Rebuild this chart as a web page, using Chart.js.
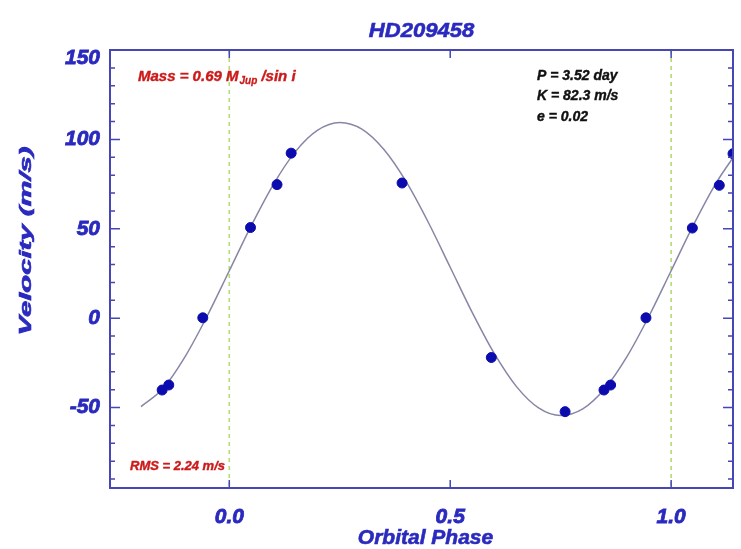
<!DOCTYPE html>
<html>
<head>
<meta charset="utf-8">
<title>HD209458</title>
<script src="https://cdn.jsdelivr.net/npm/chart.js@4/dist/chart.umd.min.js"></script>
<style>
    body { margin: 0; background: #ffffff; }
    #rvChart { display: block; }
</style>
</head>
<body>
<canvas id="rvChart" width="741" height="549"></canvas>
<script>
// radial velocity measurements, folded on the orbital period
const obsPhase = [-0.152, -0.137, -0.060, 0.048, 0.108, 0.140, 0.391, 0.593, 0.760, 0.848, 0.863, 0.943, 1.048, 1.109, 1.140];
const obsVelocity = [-40.2, -37.4, 0.2, 50.7, 74.7, 92.3, 75.6, -22.0, -52.3, -40.2, -37.4, 0.2, 50.4, 74.3, 92.0];

// orbit fit, sampled along phase
const fitPhase = [-0.20, -0.15, -0.10, -0.05, 0.00, 0.05, 0.10, 0.15, 0.20, 0.25, 0.30, 0.35, 0.40, 0.45,
    0.50, 0.55, 0.60, 0.65, 0.70, 0.75, 0.80, 0.85, 0.90, 0.95, 1.00, 1.05, 1.10, 1.15];
const fitVelocity = [-49.5, -39.4, -21.5, 1.2, 26.5, 51.9, 74.9, 93.3, 105.2, 109.5, 105.8, 94.4, 76.5, 53.8,
    28.5, 3.1, -19.9, -38.3, -50.2, -54.5, -50.8, -39.4, -21.5, 1.2, 26.5, 51.9, 74.9, 93.3];

// phase zero markers
const markerPhase = [0.0, 1.0];

const xTickValues = [0.0, 0.5, 1.0];
const yTickValues = [-50, 0, 50, 100, 150];

const titleText = 'HD209458';
const xTitle = 'Orbital Phase';
const yTitle = 'Velocity (m/s)';
const orbitLines = ['P = 3.52 day', 'K = 82.3 m/s', 'e = 0.02'];
const massText = ['Mass = 0.69 M', 'Jup', ' /sin i'];
const rmsText = 'RMS = 2.24 m/s';

const blue = '#2a2abf';
const axisBlue = '#4646b4';
const red = '#cc1a1a';
const fontFamily = '"Liberation Sans", Arial, sans-serif';

function pairs(xs, ys) {
    return xs.map((x, i) => ({ x: x, y: ys[i] }));
}

// text drawn with an optional stretch along the baseline and a thin outline for weight
function drawText(ctx, text, x, y, opts) {
    ctx.save();
    ctx.font = opts.font;
    ctx.fillStyle = opts.color;
    ctx.strokeStyle = opts.color;
    ctx.lineWidth = opts.weight || 0;
    ctx.textAlign = opts.align || 'left';
    ctx.textBaseline = 'middle';
    ctx.translate(x, y);
    if (opts.rotate) ctx.rotate(opts.rotate);
    ctx.scale(opts.stretch || 1, 1);
    ctx.fillText(text, 0, 0);
    if (opts.weight) ctx.strokeText(text, 0, 0);
    ctx.restore();
}

const markerLines = {
    id: 'markerLines',
    beforeDatasetsDraw(chart) {
        const ctx = chart.ctx;
        const area = chart.chartArea;
        const xs = chart.scales.x;
        ctx.save();
        ctx.strokeStyle = '#b2dc74';
        ctx.lineWidth = 1.6;
        ctx.setLineDash([4, 4]);
        markerPhase.forEach(p => {
            const px = xs.getPixelForValue(p);
            ctx.beginPath();
            ctx.moveTo(px, area.top);
            ctx.lineTo(px, area.bottom);
            ctx.stroke();
        });
        ctx.restore();
    }
};

const frame = {
    id: 'frame',
    afterDraw(chart) {
        const ctx = chart.ctx;
        const a = chart.chartArea;
        const xs = chart.scales.x;
        const ys = chart.scales.y;

        ctx.save();
        ctx.strokeStyle = axisBlue;
        ctx.lineWidth = 2;
        ctx.strokeRect(a.left, a.top, a.right - a.left, a.bottom - a.top);

        // inward ticks, minor every 10 m/s on the velocity axis
        ctx.lineWidth = 1.5;
        ctx.beginPath();
        for (let v = Math.ceil(ys.min / 10) * 10; v <= ys.max; v += 10) {
            const py = ys.getPixelForValue(v);
            const len = v % 50 === 0 ? 10 : 5;
            ctx.moveTo(a.left, py);
            ctx.lineTo(a.left + len, py);
            ctx.moveTo(a.right, py);
            ctx.lineTo(a.right - len, py);
        }
        xTickValues.forEach(v => {
            const px = xs.getPixelForValue(v);
            ctx.moveTo(px, a.bottom);
            ctx.lineTo(px, a.bottom - 8);
            ctx.moveTo(px, a.top);
            ctx.lineTo(px, a.top + 8);
        });
        ctx.stroke();
        ctx.restore();

        const tickFont = 'italic bold 21px ' + fontFamily;
        yTickValues.forEach(v => {
            const py = Math.max(ys.getPixelForValue(v), a.top + 8);
            drawText(ctx, String(v), a.left - 10, py, { font: tickFont, color: blue, align: 'right', weight: 0.8 });
        });
        xTickValues.forEach(v => {
            drawText(ctx, v.toFixed(1), xs.getPixelForValue(v), a.bottom + 29, { font: tickFont, color: blue, align: 'center', weight: 0.8 });
        });

        drawText(ctx, titleText, (a.left + a.right) / 2, 31, { font: 'italic bold 21px ' + fontFamily, color: blue, align: 'center', stretch: 1.05, weight: 0.6 });
        drawText(ctx, xTitle, (a.left + a.right) / 2 + 4, 538, { font: 'italic bold 20px ' + fontFamily, color: blue, align: 'center', stretch: 1.05, weight: 0.6 });
        drawText(ctx, yTitle, 26, 241, { font: 'italic bold 17px ' + fontFamily, color: blue, align: 'center', rotate: -Math.PI / 2, stretch: 1.72, weight: 0.6 });

        // fit parameters
        const smallFont = 'italic bold 14px ' + fontFamily;
        orbitLines.forEach((t, i) => {
            drawText(ctx, t, 537, 76 + i * 20.5, { font: smallFont, color: '#111111', weight: 0.4 });
        });

        // mass with a subscripted unit
        const massFont = 'italic bold 15px ' + fontFamily;
        const subFont = 'italic bold 10px ' + fontFamily;
        let mx = 138;
        const my = 77;
        drawText(ctx, massText[0], mx, my, { font: massFont, color: red, weight: 0.4 });
        ctx.save();
        ctx.font = massFont;
        mx += ctx.measureText(massText[0]).width + 1;
        drawText(ctx, massText[1], mx, my + 4, { font: subFont, color: red, weight: 0.3 });
        ctx.font = subFont;
        mx += ctx.measureText(massText[1]).width;
        ctx.restore();
        drawText(ctx, massText[2], mx, my, { font: massFont, color: red, weight: 0.4 });

        drawText(ctx, rmsText, 130, 466, { font: 'italic bold 13px ' + fontFamily, color: red, weight: 0.4 });
    }
};

new Chart(document.getElementById('rvChart'), {
    type: 'scatter',
    data: {
        datasets: [
            {
                label: 'fit',
                data: pairs(fitPhase, fitVelocity),
                showLine: true,
                borderColor: '#8686a6',
                borderWidth: 1.5,
                pointRadius: 0,
                cubicInterpolationMode: 'monotone',
                order: 2
            },
            {
                label: 'observed',
                data: pairs(obsPhase, obsVelocity),
                pointRadius: 5,
                pointBackgroundColor: '#0c0cae',
                pointBorderColor: '#0c0cae',
                pointBorderWidth: 1,
                order: 1
            }
        ]
    },
    options: {
        responsive: false,
        animation: false,
        layout: { padding: { top: 50, right: 8, left: 0, bottom: 0 } },
        plugins: {
            legend: { display: false },
            tooltip: { enabled: false }
        },
        scales: {
            x: {
                type: 'linear',
                min: -0.27,
                max: 1.14,
                grid: { display: false },
                border: { display: false },
                ticks: { display: false },
                afterFit: s => { s.height = 61; }
            },
            y: {
                min: -95,
                max: 150,
                grid: { display: false },
                border: { display: false },
                ticks: { display: false },
                afterFit: s => { s.width = 110; }
            }
        }
    },
    plugins: [markerLines, frame]
});
</script>
</body>
</html>
